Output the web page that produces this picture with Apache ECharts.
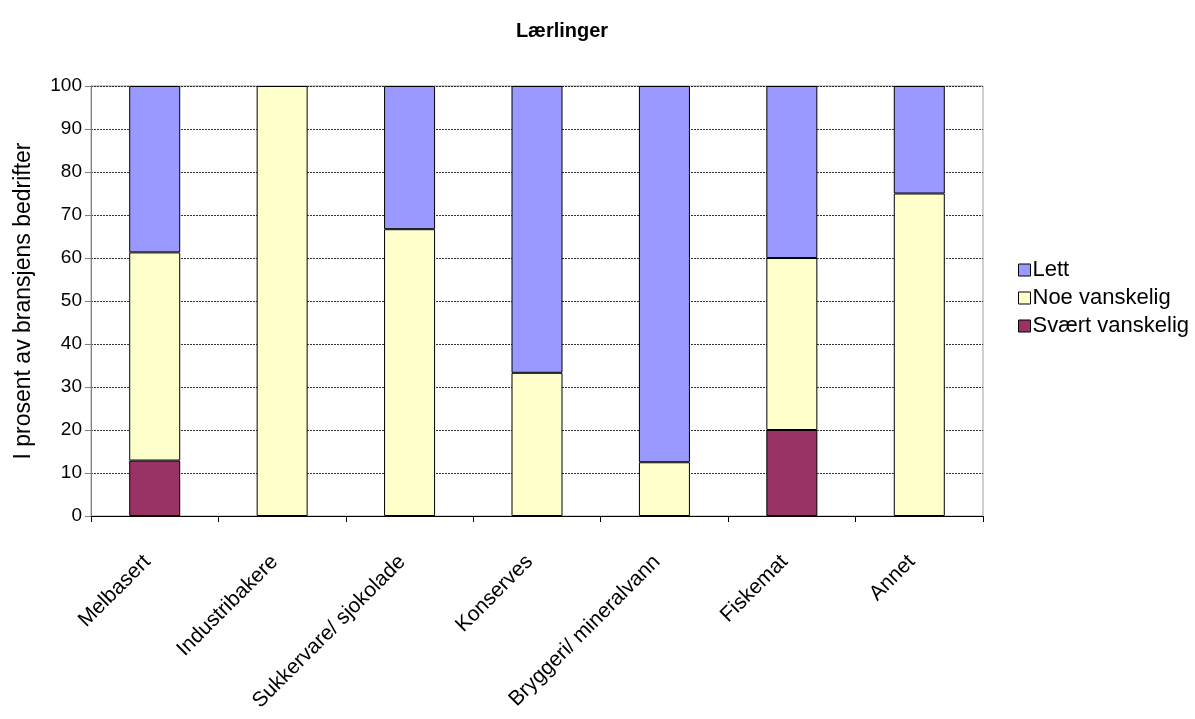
<!DOCTYPE html>
<html><head><meta charset="utf-8">
<script src="https://cdn.jsdelivr.net/npm/echarts@6/dist/echarts.min.js"></script>
<style>html,body{margin:0;padding:0;background:#fff}#c{width:1195px;height:719px}</style>
</head><body><div id="c"></div>
<script>
const categories = ["Melbasert","Industribakere","Sukkervare/ sjokolade","Konserves","Bryggeri/ mineralvann","Fiskemat","Annet"];
const svaertVanskelig = [12.9, null, null, null, null, 20, null];
const noeVanskelig = [48.4, 100, 66.7, 33.3, 12.5, 40, 75];
const lett = [38.7, null, 33.3, 66.7, 87.5, 40, 25];
const yTicks = [0,10,20,30,40,50,60,70,80,90,100];

const F = '"Liberation Sans", Arial, sans-serif';
const chart = echarts.init(document.getElementById('c'));
const mk = (name, data, color) => ({
  name, type: 'bar', stack: 'total', data, barWidth: 51,
  itemStyle: {color, borderColor: '#000', borderWidth: 1},
  emphasis: {disabled: true}
});
chart.setOption({
  animation: false,
  title: {text: 'Lærlinger', left: 557, textAlign: 'center', top: 16,
    textStyle: {fontFamily: F, fontSize: 20, fontWeight: 'bold', color: '#000'}},
  legend: {
    data: ['Lett','Noe vanskelig','Svært vanskelig'],
    orient: 'vertical', left: 1013, top: 254, itemWidth: 12, itemHeight: 12, itemGap: 6,
    icon: 'rect',
    textStyle: {fontFamily: F, fontSize: 22, lineHeight: 22, color: '#000', padding: [0,0,0,-3]},
    itemStyle: {borderColor: '#000', borderWidth: 1}
  },
  grid: {left: 91, right: 212, top: 86, bottom: 203, show: true, borderColor: '#a0a0a0', borderWidth: 1},
  xAxis: {
    type: 'category', data: categories,
    axisLine: {lineStyle: {color: '#000'}},
    axisTick: {show: true, alignWithLabel: false, length: 6, lineStyle: {color: '#000'}},
    axisLabel: {rotate: 45, interval: 0, margin: 50, verticalAlign: 'bottom',
      fontFamily: F, fontSize: 21, color: '#000'}
  },
  yAxis: {
    type: 'value', min: 0, max: 100, interval: 10,
    name: 'I prosent av bransjens bedrifter', nameLocation: 'middle', nameGap: 56,
    nameTextStyle: {fontFamily: F, fontSize: 23, color: '#000'},
    axisLine: {show: true, lineStyle: {color: '#808080'}},
    axisTick: {show: true, length: 6, lineStyle: {color: '#808080'}},
    axisLabel: {fontFamily: F, fontSize: 19, color: '#000', margin: 9,
      formatter: v => yTicks.includes(v) ? String(v) : ''},
    splitLine: {show: true, lineStyle: {color: '#000', type: [2,1], width: 1, opacity: 0.8}}
  },
  series: [
    mk('Svært vanskelig', svaertVanskelig, '#993366'),
    mk('Noe vanskelig', noeVanskelig, '#FFFFCC'),
    mk('Lett', lett, '#9999FF')
  ]
});
</script></body></html>
